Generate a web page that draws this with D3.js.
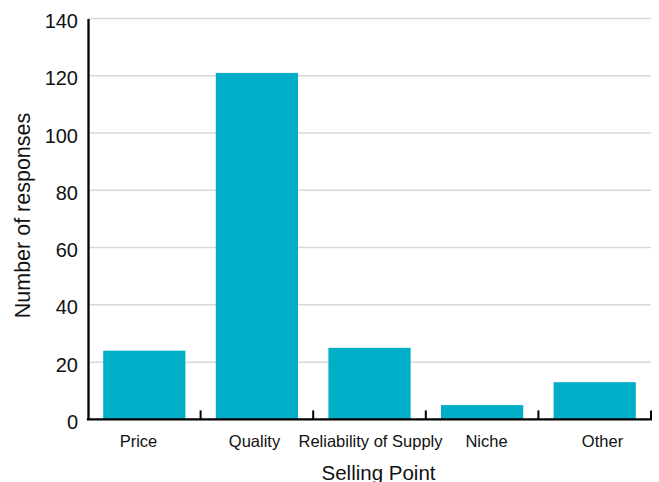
<!DOCTYPE html>
<html>
<head>
<meta charset="utf-8">
<script src="https://cdn.jsdelivr.net/npm/d3@7"></script>
<style>
  html, body { margin: 0; padding: 0; background: #ffffff; }
  svg { display: block; font-family: "Liberation Sans", Arial, sans-serif; }
</style>
</head>
<body>
<svg id="chart" width="659" height="482"></svg>
<script>
// Survey responses by selling point
const categories = ["Price", "Quality", "Reliability of Supply", "Niche", "Other"];
const responses = [24, 121, 25, 5, 13];
const yTicks = [0, 20, 40, 60, 80, 100, 120, 140];

const svg = d3.select("#chart");
const plotLeft = 88, plotRight = 651, plotTop = 18.5, plotBottom = 419.4;

const x = d3.scaleBand()
  .domain(categories)
  .range([plotLeft, plotRight])
  .paddingInner(0.27)
  .paddingOuter(0.135);

// category labels sit on a slightly wider spacing than the bars
const xLabel = d3.scaleBand()
  .domain(categories)
  .range([80.5, 660.5]);

const y = d3.scaleLinear().domain([0, 140]).range([plotBottom, plotTop]);

// horizontal gridlines
svg.append("g")
  .selectAll("line")
  .data(yTicks.filter(d => d > 0))
  .join("line")
  .attr("x1", plotLeft)
  .attr("x2", plotRight)
  .attr("y1", d => y(d))
  .attr("y2", d => y(d))
  .attr("stroke", "#d9d9d9")
  .attr("stroke-width", 1.5);

// bars
svg.append("g")
  .selectAll("rect")
  .data(categories)
  .join("rect")
  .attr("x", d => x(d))
  .attr("width", x.bandwidth())
  .attr("y", (d, i) => y(responses[i]))
  .attr("height", (d, i) => y(0) - y(responses[i]))
  .attr("fill", "#00aec7");

// y axis: line and labels only
const yAxis = svg.append("g")
  .attr("transform", `translate(${plotLeft},0)`)
  .call(d3.axisLeft(y).tickValues(yTicks).tickSize(0).tickPadding(10));
yAxis.select(".domain").attr("stroke", "#000").attr("stroke-width", 2.3);
yAxis.selectAll("text")
  .attr("font-size", 20)
  .attr("font-family", "Liberation Sans, Arial, sans-serif")
  .attr("fill", "#111")
  .attr("dy", "0.45em");

// x axis baseline with inward ticks at category boundaries
svg.append("line")
  .attr("x1", plotLeft - 1.15)
  .attr("x2", plotRight + 1)
  .attr("y1", y(0))
  .attr("y2", y(0))
  .attr("stroke", "#000")
  .attr("stroke-width", 2.4);

const step = x.step();
svg.append("g")
  .selectAll("line")
  .data(categories)
  .join("line")
  .attr("x1", d => x(d) - x.paddingOuter() * step + step)
  .attr("x2", d => x(d) - x.paddingOuter() * step + step)
  .attr("y1", y(0))
  .attr("y2", y(0) - 9)
  .attr("stroke", "#000")
  .attr("stroke-width", 2);

// category labels
svg.append("g")
  .selectAll("text")
  .data(categories)
  .join("text")
  .attr("x", d => xLabel(d) + xLabel.bandwidth() / 2)
  .attr("y", 447)
  .attr("text-anchor", "middle")
  .attr("font-size", 16.5)
  .attr("fill", "#111")
  .text(d => d);

// axis titles
svg.append("text")
  .attr("x", 378.5)
  .attr("y", 479.5)
  .attr("text-anchor", "middle")
  .attr("font-size", 20.5)
  .attr("fill", "#111")
  .text("Selling Point");

svg.append("text")
  .attr("transform", "translate(29.5,215.5) rotate(-90)")
  .attr("text-anchor", "middle")
  .attr("font-size", 21.5)
  .attr("fill", "#111")
  .text("Number of responses");
</script>
</body>
</html>
